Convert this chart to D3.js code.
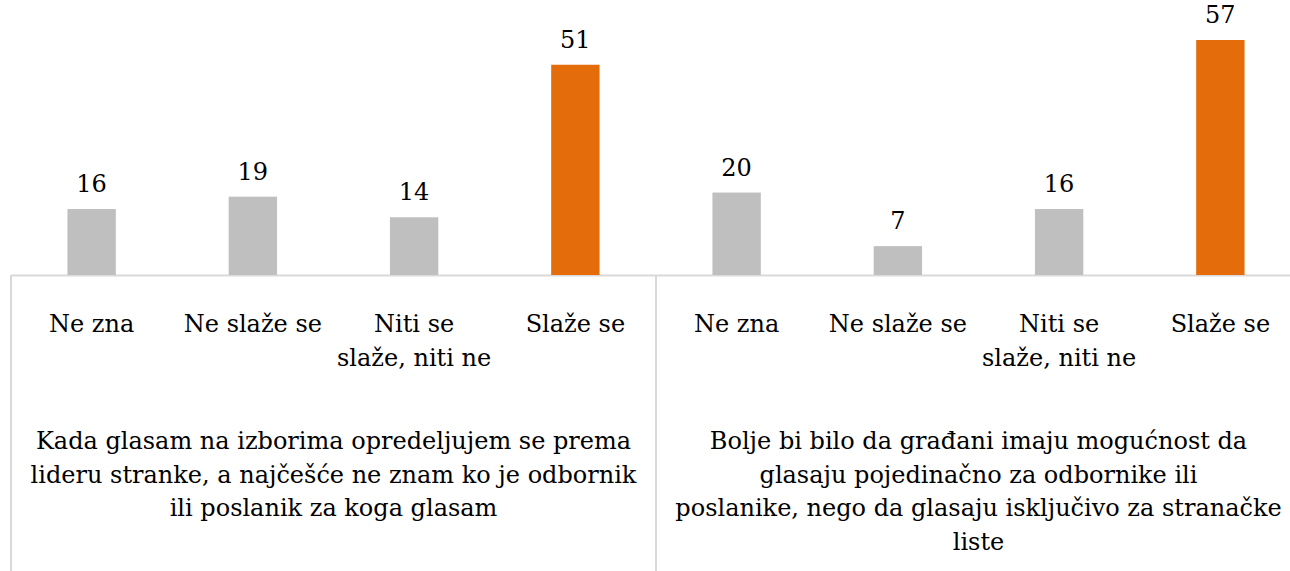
<!DOCTYPE html>
<html>
<head>
<meta charset="utf-8">
<script src="https://d3js.org/d3.v7.min.js"></script>
<style>
  body { margin: 0; background: #fff; }
  svg { display: block; }
  text { font-family: "DejaVu Serif", "Times New Roman", serif; fill: #000; }
</style>
</head>
<body>
<div id="chart"></div>
<script>
// data
const groups = ["g1", "g2"];
const groupTitles = [
  ["Kada glasam na izborima opredeljujem se prema", "lideru stranke, a najčešće ne znam ko je odbornik", "ili poslanik za koga glasam"],
  ["Bolje bi bilo da građani imaju mogućnost da", "glasaju pojedinačno za odbornike ili", "poslanike, nego da glasaju isključivo za stranačke", "liste"]
];
const categories = ["Ne zna", "Ne slaže se", "Niti se slaže, niti ne", "Slaže se"];
const categoryLines = [["Ne zna"], ["Ne slaže se"], ["Niti se", "slaže, niti ne"], ["Slaže se"]];
const values1 = [16, 19, 14, 51];
const values2 = [20, 7, 16, 57];
const seriesValues = [values1, values2];
const highlight = "Slaže se";

const W = 1290, H = 571;
const baseY = 275;
const fs = 24;

const svg = d3.select("#chart").append("svg")
  .attr("width", W).attr("height", H);

const x0 = d3.scaleBand().domain(groups).range([11, 1301]);
const x1 = d3.scaleBand().domain(categories).range([0, x0.bandwidth()]).paddingInner(0.7).paddingOuter(0.35);
const y = d3.scaleLinear().domain([0, 57]).range([baseY, 40]);

// grid lines
svg.append("line")
  .attr("x1", 11).attr("x2", W).attr("y1", baseY + 0.5).attr("y2", baseY + 0.5)
  .attr("stroke", "#d9d9d9").attr("stroke-width", 2);
groups.forEach(g => {
  svg.append("line")
    .attr("x1", x0(g)).attr("x2", x0(g)).attr("y1", baseY).attr("y2", H)
    .attr("stroke", "#d9d9d9").attr("stroke-width", 2);
});

groups.forEach((g, gi) => {
  const gEl = svg.append("g").attr("transform", `translate(${x0(g)},0)`);
  const rows = categories.map((c, i) => ({ c, v: seriesValues[gi][i], lines: categoryLines[i] }));

  gEl.selectAll("rect").data(rows).enter().append("rect")
    .attr("x", d => x1(d.c))
    .attr("width", x1.bandwidth())
    .attr("y", d => y(d.v))
    .attr("height", d => baseY - y(d.v))
    .attr("fill", d => d.c === highlight ? "#e46c0a" : "#bfbfbf");

  gEl.selectAll(".val").data(rows).enter().append("text")
    .attr("class", "val")
    .attr("x", d => x1(d.c) + x1.bandwidth() / 2)
    .attr("y", d => y(d.v) - 17)
    .attr("text-anchor", "middle")
    .attr("font-size", fs)
    .text(d => d.v);

  const cat = gEl.selectAll(".cat").data(rows).enter().append("text")
    .attr("class", "cat")
    .attr("text-anchor", "middle")
    .attr("font-size", fs);
  cat.each(function(d) {
    d3.select(this).selectAll("tspan").data(d.lines).enter().append("tspan")
      .attr("x", x1(d.c) + x1.bandwidth() / 2)
      .attr("y", (l, i) => 332 + i * 34)
      .text(l => l);
  });

  gEl.append("text")
    .attr("text-anchor", "middle")
    .attr("font-size", fs)
    .selectAll("tspan").data(groupTitles[gi]).enter().append("tspan")
    .attr("x", x0.bandwidth() / 2)
    .attr("y", (l, i) => 449 + i * 33.5)
    .text(l => l);
});
</script>
</body>
</html>
